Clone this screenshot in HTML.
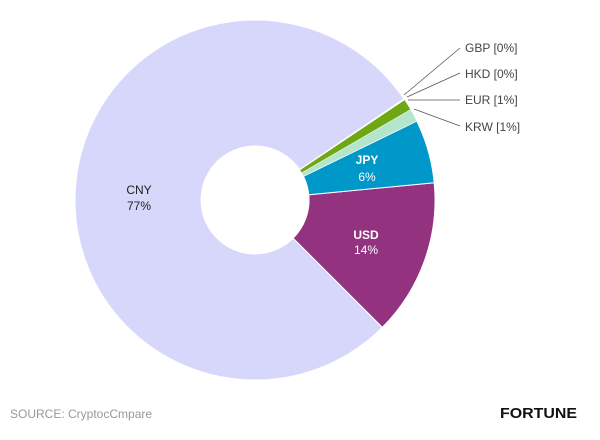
<!DOCTYPE html>
<html><head><meta charset="utf-8"><style>
html,body{margin:0;padding:0;background:#fff;}
svg{display:block;font-family:"Liberation Sans",sans-serif;}
</style></head><body>
<svg width="600" height="440" viewBox="0 0 600 440">
<path d="M382.3,327.3 A180,180 0 1 1 403.9,98.8 L299.7,169.6 A54,54 0 1 0 293.2,238.2 Z" fill="#d6d7fb" stroke="#fff" stroke-width="1"/>
<path d="M434.2,182.8 A180,180 0 0 1 382.3,327.3 L293.2,238.2 A54,54 0 0 0 308.8,194.8 Z" fill="#93337f" stroke="#fff" stroke-width="1"/>
<path d="M416.8,121.1 A180,180 0 0 1 434.2,182.8 L308.8,194.8 A54,54 0 0 0 303.5,176.3 Z" fill="#0097c9" stroke="#fff" stroke-width="1"/>
<path d="M410.6,109.5 A180,180 0 0 1 416.8,121.1 L303.5,176.3 A54,54 0 0 0 301.7,172.8 Z" fill="#b3e6cc" stroke="#fff" stroke-width="0.5"/>
<path d="M404.6,99.9 A180,180 0 0 1 410.6,109.5 L301.7,172.8 A54,54 0 0 0 299.9,170.0 Z" fill="#6fa814" stroke="#fff" stroke-width="0.5"/>
<g stroke="#555" stroke-width="0.8" fill="none">
<line x1="404" y1="95" x2="460" y2="48"/>
<line x1="407" y1="97" x2="460" y2="73"/>
<line x1="408" y1="100" x2="460" y2="100"/>
<line x1="414" y1="109" x2="460" y2="126"/>
</g>
<g font-size="12" fill="#444">
<text x="465" y="52">GBP [0%]</text>
<text x="465" y="78">HKD [0%]</text>
<text x="465" y="104">EUR [1%]</text>
<text x="465" y="131">KRW [1%]</text>
</g>
<g font-size="12" text-anchor="middle">
<text x="367" y="164" fill="#fff" font-weight="bold">JPY</text>
<text x="367" y="181" fill="#fff">6%</text>
<text x="366" y="239" fill="#fff" font-weight="bold">USD</text>
<text x="366" y="254" fill="#fff">14%</text>
<text x="139" y="194" fill="#222">CNY</text>
<text x="139" y="210" fill="#222">77%</text>
</g>
<text x="10" y="418" font-size="12" fill="#999">SOURCE: CryptocCmpare</text>
<text x="577" y="418" font-size="15" font-weight="bold" fill="#111" text-anchor="end" textLength="77" lengthAdjust="spacingAndGlyphs">FORTUNE</text>
</svg>
</body></html>
